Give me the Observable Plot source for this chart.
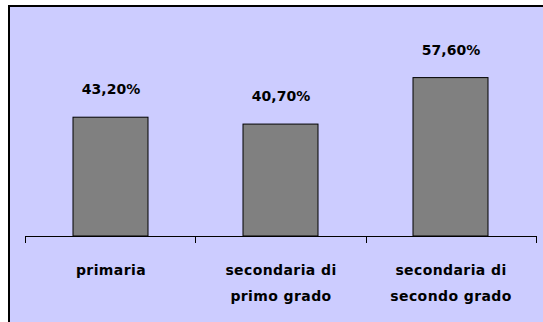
<!DOCTYPE html>
<html>
<head>
<meta charset="utf-8">
<script src="https://cdn.jsdelivr.net/npm/d3@7"></script>
<script src="https://cdn.jsdelivr.net/npm/@observablehq/plot@0.6"></script>
<style>
  html, body { margin: 0; padding: 0; background: #fff; }
  #wrap { position: relative; width: 543px; height: 322px; overflow: hidden; }
  #box {
    position: absolute; left: 8px; top: 5px; width: 540px; height: 330px;
    background: #CCCCFF; border-top: 2px solid #000; border-left: 2px solid #000;
  }
  #chart { position: absolute; left: 0; top: 0; }
  #chart svg { background: transparent; overflow: visible; }
</style>
</head>
<body>
<div id="wrap"><div id="box"></div><div id="chart"></div></div>
<script>
// School level and share (%)
const levels = ["primaria", "secondaria di primo grado", "secondaria di secondo grado"];
const levelLabels = ["primaria", "secondaria di\nprimo grado", "secondaria di\nsecondo grado"];
const shares = [43.2, 40.7, 57.6];

const data = levels.map((level, i) => ({level, label: levelLabels[i], value: shares[i]}));
const fmt = v => v.toFixed(2).replace(".", ",") + "%";

const font = {fontFamily: "DejaVu Sans", fontWeight: "bold", fontSize: 14, fill: "#000"};

// Category axis: baseline with ticks at the band boundaries
const boundaryTicks = (index, scales, values, dims) => {
  const n = levels.length;
  const x0 = dims.marginLeft, x1 = dims.width - dims.marginRight;
  const y0 = scales.y(0);
  const g = d3.create("svg:g").attr("stroke", "#000").attr("stroke-width", 1);
  d3.range(n + 1).forEach(k => {
    const x = Math.round(x0 + (x1 - x0) * k / n) + 0.5;
    g.append("line").attr("x1", x).attr("x2", x).attr("y1", y0).attr("y2", y0 + 7);
  });
  return g.node();
};

const plot = Plot.plot({
  width: 543,
  height: 322,
  marginLeft: 25,
  marginRight: 7,
  marginTop: 71,
  marginBottom: 86,
  style: {background: "transparent"},
  x: {domain: levels, paddingInner: 0.56, paddingOuter: 0.28, axis: null},
  y: {domain: [0, 60], axis: null},
  marks: [
    Plot.barY(data, {x: "level", y: "value", fill: "#808080", stroke: "#000", strokeWidth: 1}),
    Plot.ruleY([0], {stroke: "#000", strokeWidth: 1}),
    boundaryTicks,
    Plot.text(data, {x: "level", y: "value", text: d => fmt(d.value), dy: -28, lineAnchor: "middle", ...font}),
    Plot.text(data, {x: "level", y: () => 0, text: "label", dy: 20, lineAnchor: "top", lineHeight: 1.85, ...font, className: "cat-label"})
  ]
});
d3.select(plot).selectAll(".cat-label text").style("letter-spacing", "0.4px");
document.getElementById("chart").appendChild(plot);
</script>
</body>
</html>
